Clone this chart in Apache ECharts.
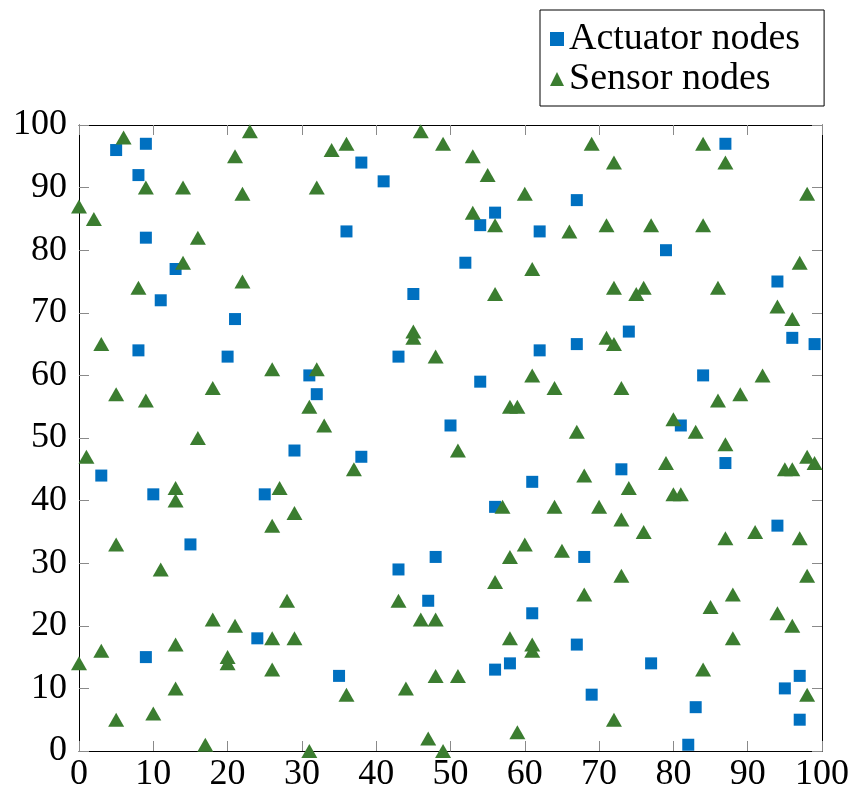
<!DOCTYPE html>
<html>
<head>
<meta charset="utf-8">
<script src="https://cdn.jsdelivr.net/npm/echarts@6/dist/echarts.min.js"></script>
<style>
html,body{margin:0;padding:0;background:#fff;}
#chart{width:855px;height:793px;}
</style>
</head>
<body>
<div id="chart"></div>
<script>
const seriesNames = ['Actuator nodes', 'Sensor nodes'];
const tickValues = [0,10,20,30,40,50,60,70,80,90,100];

const actuatorX = [5,9,8,9,13,11,21, 38,41,36,45, 56,54,62,67,52,74, 87,79,94,96,
  8,20,3,10,15, 43,31,32,29,38,25,50, 62,67,54,73,61,56, 99,84,81,87,94,
  9,24, 35,43,48,47, 68,61,67,58,56,69, 77,97,95,83,97,82];
const actuatorY = [96,97,92,82,77,72,69, 94,91,83,73, 86,84,83,88,78,67, 97,80,75,66,
  64,63,44,41,33, 63,60,57,48,47,41,52, 64,65,59,45,43,39, 65,60,52,46,36,
  15,18, 12,29,31,24, 31,22,17,14,13,9, 14,12,10,7,5,1];

const sensorX = [6,23,21,9,14,22,0,2,16,14,8,22,
  34,36,46,49,32,
  53,55,60,69,72,53,56,66,71,61,56,72,75,
  84,87,98,77,84,97,76,86,94,96,
  3,5,9,18,16,1,13,13,5,
  45,45,48,26,32,31,33,37,27,29,26,
  71,72,61,64,73,58,59,67,51,68,74,57,64,70,73,60,65,
  92,89,86,80,83,87,79,98,99,95,96,80,81,76,87,91,97,
  11,18,21,3,13,0,20,20,13,10,5,17,
  28,26,29,26,31,36,43,46,48,44,48,47,49,
  58,56,73,68,58,61,61,51,59,72,
  98,88,85,94,96,88,84,98];
const sensorY = [98,99,95,90,90,89,87,85,82,78,74,75,
  96,97,99,97,90,
  95,92,89,97,94,86,84,83,84,77,73,74,73,
  97,94,89,84,84,78,74,74,71,69,
  65,57,56,58,50,47,42,40,33,
  67,66,63,61,61,55,52,45,42,38,36,
  66,65,60,58,58,55,55,51,48,44,42,39,39,39,37,33,32,
  60,57,56,53,51,49,46,47,46,45,45,41,41,35,34,35,34,
  29,21,20,16,17,14,15,14,10,6,5,1,
  24,18,18,13,0,9,24,21,21,10,12,2,0,
  31,27,28,25,18,17,16,12,3,5,
  28,25,23,22,20,18,13,9];

const zip = (xs, ys) => xs.map((x, i) => [x, ys[i]]);

const FONT = 'Liberation Serif';
const tickStyle = {show: true, inside: true, length: 10, lineStyle: {color: '#8a8a8a', width: 1}};
const lineStyle = {show: true, onZero: false, lineStyle: {color: '#000', width: 1}};

function mkAxis(pos, labels) {
  return {
    type: 'value', position: pos, min: 0, max: 100, interval: 10,
    axisLine: lineStyle, axisTick: tickStyle, splitLine: {show: false},
    axisLabel: labels ? {show: true, fontFamily: FONT, fontSize: 36, color: '#000',
      margin: pos === 'bottom' ? 6 : 12,
      formatter: v => (tickValues.indexOf(v) >= 0 ? String(v) : '')} : {show: false}
  };
}

const chart = echarts.init(document.getElementById('chart'), null, {renderer: 'canvas'});
chart.setOption({
  animation: false,
  backgroundColor: '#fff',
  grid: {left: 79, right: 33, top: 125, bottom: 42, containLabel: false},
  xAxis: [mkAxis('bottom', true), mkAxis('top', false)],
  yAxis: [mkAxis('left', true), mkAxis('right', false)],
  legend: {
    orient: 'vertical', left: 540, top: 10,
    borderColor: '#000', borderWidth: 1, borderRadius: 0,
    padding: [10, 24, 8, 10], itemGap: 2, itemWidth: 14, itemHeight: 14, itemTextGap: 3,
    textStyle: {fontFamily: FONT, fontSize: 38, color: '#000'},
    data: seriesNames
  },
  series: [
    {name: seriesNames[0], type: 'scatter', symbol: 'rect', symbolSize: 12,
     itemStyle: {color: '#0070c0', opacity: 1}, clip: false, data: zip(actuatorX, actuatorY)},
    {name: seriesNames[1], type: 'scatter', symbol: 'triangle', symbolSize: [16, 14],
     itemStyle: {color: '#3b7d30', opacity: 1}, clip: false, data: zip(sensorX, sensorY)}
  ]
});
</script>
</body>
</html>
